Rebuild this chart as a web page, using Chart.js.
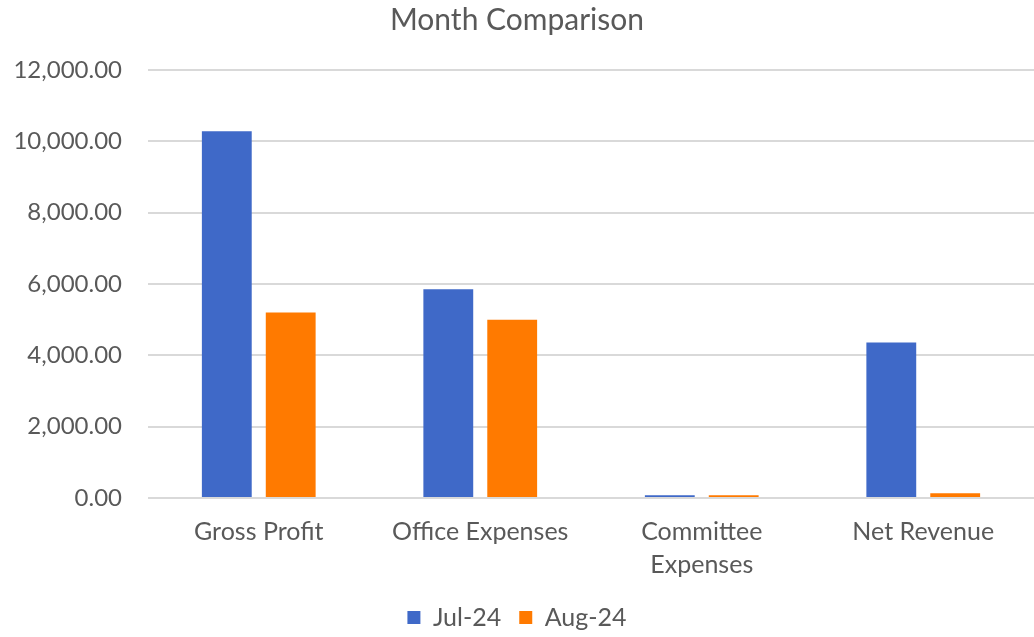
<!DOCTYPE html>
<html>
<head>
<meta charset="utf-8">
<script src="https://cdn.jsdelivr.net/npm/chart.js@4"></script>
<style>
  html, body { margin: 0; padding: 0; background: #fff; }
  #wrap { width: 1034px; height: 637px; }
</style>
</head>
<body>
<div id="wrap"><canvas id="monthChart" width="1034" height="637"></canvas></div>
<script>
// ------------------------------
// data
// ------------------------------
const categories = ["Gross Profit", "Office Expenses", ["Committee", "Expenses"], "Net Revenue"];
const seriesNames = ["Jul-24", "Aug-24"];
const jul24 = [10280, 5850, 80, 4360];
const aug24 = [5200, 5000, 80, 130];
const yTicks = [0, 2000, 4000, 6000, 8000, 10000, 12000];

const FONT = "Lato, 'Open Sans', sans-serif";
const GREY = "#595959";

const fmt = v => Number(v).toLocaleString("en-US", { minimumFractionDigits: 2, maximumFractionDigits: 2 });

const ctx = document.getElementById("monthChart");
const monthChart = new Chart(ctx, {
  type: "bar",
  data: {
    labels: categories,
    datasets: [
      { label: seriesNames[0], data: jul24, backgroundColor: "#3F69C8" },
      { label: seriesNames[1], data: aug24, backgroundColor: "#FF7A00" }
    ]
  },
  options: {
    responsive: false,
    animation: false,
    categoryPercentage: 0.577,
    barPercentage: 0.78,
    layout: { padding: { left: 0, right: 0, top: 0, bottom: -3 } },
    plugins: {
      title: {
        display: true,
        text: "Month Comparison",
        color: GREY,
        font: { family: FONT, size: 30, weight: "normal" },
        padding: { top: 2, bottom: 32 }
      },
      legend: {
        position: "bottom",
        labels: {
          color: GREY,
          font: { family: FONT, size: 25 },
          boxWidth: 13,
          boxHeight: 13,
          padding: 18
        }
      },
      tooltip: { enabled: false }
    },
    scales: {
      x: {
        afterFit: s => { s.height -= 11; },
        grid: { display: false, drawTicks: false },
        border: { display: false },
        ticks: {
          color: GREY,
          font: { family: FONT, size: 25, lineHeight: 1.32 },
          padding: 17,
          maxRotation: 0
        }
      },
      y: {
        min: 0,
        max: 12000,
        afterBuildTicks: s => { s.ticks = yTicks.map(v => ({ value: v })); },
        afterFit: s => { s.width = 148; },
        grid: { color: "#D9D9D9", lineWidth: 2, drawTicks: false },
        border: { display: false },
        ticks: {
          color: GREY,
          font: { family: FONT, size: 24 },
          padding: 26,
          callback: v => fmt(v)
        }
      }
    }
  }
});
</script>
</body>
</html>
